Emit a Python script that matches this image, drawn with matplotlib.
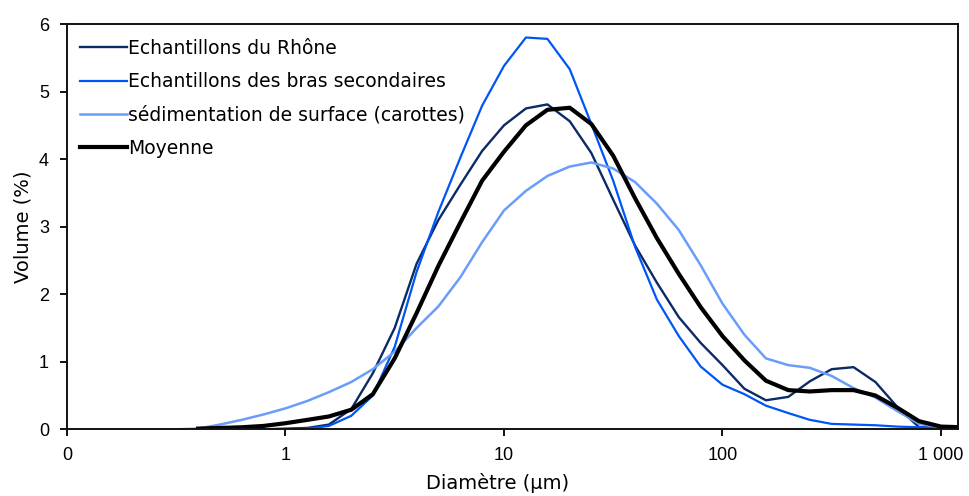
import numpy as np
import matplotlib
matplotlib.use("Agg")
import matplotlib.pyplot as plt
from matplotlib.ticker import FixedLocator, FixedFormatter, NullLocator

plt.rcParams['font.family'] = ['Liberation Sans', 'DejaVu Sans']

nan = np.nan
diametre = [0.316, 0.398, 0.501, 0.631, 0.794, 1.0, 1.26, 1.58, 2.0, 2.51, 3.16,
            3.98, 5.01, 6.31, 7.94, 10.0, 12.6, 15.8, 20.0, 25.1, 31.6, 39.8,
            50.1, 63.1, 79.4, 100, 126, 158, 200, 251, 316, 398, 501, 631, 794,
            1000, 1259]

rhone = [nan, 0.0, 0.0, 0.0, 0.0, 0.01, 0.02, 0.07, 0.30, 0.83, 1.50,
         2.45, 3.10, 3.62, 4.12, 4.50, 4.75, 4.81, 4.56, 4.09, 3.40, 2.72,
         2.17, 1.66, 1.28, 0.95, 0.60, 0.43, 0.48, 0.71, 0.89, 0.92, 0.70,
         0.33, 0.03, 0.02, 0.02]

bras = [nan, 0.0, 0.0, 0.0, 0.0, 0.0, 0.01, 0.05, 0.20, 0.50, 1.22,
        2.33, 3.22, 4.02, 4.79, 5.38, 5.80, 5.78, 5.33, 4.52, 3.68, 2.70,
        1.92, 1.38, 0.93, 0.66, 0.52, 0.35, 0.24, 0.14, 0.08, 0.07, 0.06,
        0.04, 0.03, 0.02, 0.02]

carottes = [0.0, 0.01, 0.07, 0.14, 0.22, 0.31, 0.42, 0.55, 0.70, 0.89, 1.15,
            1.50, 1.82, 2.25, 2.77, 3.24, 3.53, 3.75, 3.89, 3.95, 3.86, 3.66,
            3.34, 2.95, 2.43, 1.86, 1.40, 1.05, 0.95, 0.91, 0.79, 0.61, 0.47,
            0.27, 0.08, 0.03, 0.02]

moyenne = [nan, 0.01, 0.02, 0.03, 0.05, 0.09, 0.14, 0.19, 0.29, 0.52, 1.05,
           1.72, 2.42, 3.06, 3.68, 4.11, 4.50, 4.73, 4.76, 4.52, 4.05, 3.42,
           2.83, 2.30, 1.81, 1.38, 1.02, 0.72, 0.58, 0.56, 0.58, 0.58, 0.50,
           0.32, 0.12, 0.04, 0.03]

series_labels = ["Echantillons du Rhône", "Echantillons des bras secondaires",
                 "sédimentation de surface (carottes)", "Moyenne"]
xtick_values = [0.1, 1, 10, 100, 1000]
xtick_labels = ["0", "1", "10", "100", "1 000"]
ytick_values = [0, 1, 2, 3, 4, 5, 6]

text_family = ['DejaVu Sans']

fig = plt.figure(figsize=(9.70, 4.96), dpi=100)
ax = fig.add_axes([67/970, 1 - 429.3/496, (958.3 - 67)/970, (429.3 - 24)/496])

ax.plot(diametre, rhone, color="#0B2A66", lw=1.7, label=series_labels[0])
ax.plot(diametre, bras, color="#0055F5", lw=1.6, label=series_labels[1])
ax.plot(diametre, carottes, color="#6A9CFA", lw=1.8, label=series_labels[2])
ax.plot(diametre, moyenne, color="#000000", lw=3.0, label=series_labels[3])

ax.set_xscale("log")
ax.set_xlim(0.1, 1200)
ax.set_ylim(0, 6)
ax.xaxis.set_major_locator(FixedLocator(xtick_values))
ax.xaxis.set_major_formatter(FixedFormatter(xtick_labels))
ax.xaxis.set_minor_locator(NullLocator())
ax.set_yticks(ytick_values)
ax.set_yticklabels([str(v) for v in ytick_values])

for s in ax.spines.values():
    s.set_linewidth(1.4)
    s.set_color("#111111")

ax.tick_params(axis="both", direction="out", length=5, width=1.4,
               labelsize=13, pad=8, color="#111111")

ax.set_xlabel("Diamètre (µm)", fontsize=14, family=text_family)
ax.set_ylabel("Volume (%)", fontsize=14, family=text_family)
ax.xaxis.set_label_coords(0.483, -0.108)
ax.yaxis.set_label_coords(-0.039, 0.5)

leg = ax.legend(loc="upper left", bbox_to_anchor=(0.0146, 0.963), frameon=False,
                prop={'family': text_family, 'size': 13.5},
                handlelength=2.5, handletextpad=0.05,
                labelspacing=0.76, borderaxespad=0, borderpad=0)

fig.savefig("out.png", dpi=100)
